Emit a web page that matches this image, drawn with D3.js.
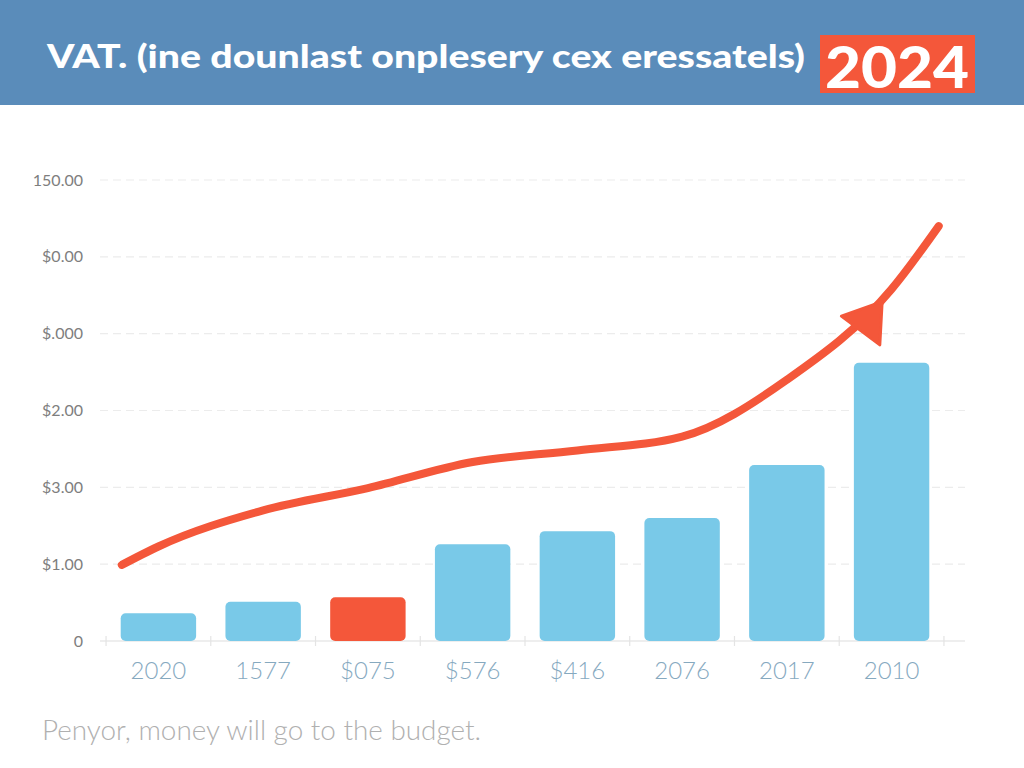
<!DOCTYPE html>
<html><head><meta charset="utf-8">
<script src="https://cdn.jsdelivr.net/npm/d3@7"></script>
<style>html,body{margin:0;padding:0;background:#fff;}svg{display:block;}</style>
</head><body>
<svg id="chart" width="1024" height="768"></svg>
<script>
const titleText = "VAT. (ine dounlast onplesery cex eressatels)";
const yearBadge = "2024";
const footerText = "Penyor, money will go to the budget.";
const categories = ["2020","1577","$075","$576","$416","2076","2017","2010"];
const barValues = [0.36, 0.51, 0.57, 1.26, 1.43, 1.6, 2.29, 3.62];
const highlightIndex = 2;
const yTickValues = [0,1,2,3,4,5,6];
const yTickLabels = ["0","$1.00","$3.00","$2.00","$.000","$0.00","150.00"];
// trend line: positions in category-index units, and values
const lineIdx = [-0.35, 0, 1, 2, 3, 4, 5, 6, 7, 7.45];
const lineVals = [0.99, 1.23, 1.70, 1.99, 2.33, 2.48, 2.66, 3.40, 4.58, 5.4];

const svg = d3.select("#chart");
const W = 1024, H = 768;
const C = {header:"#5a8cba", red:"#f4573a", bar:"#79c9e8", ytext:"#7e7e7e", xtext:"#86a9bf", grid:"#ececec", foot:"#b0b0b0"};
const FONT = "Lato, 'Open Sans', sans-serif";

// header
svg.append("rect").attr("x",0).attr("y",0).attr("width",W).attr("height",105).attr("fill",C.header);
svg.append("text").attr("x",47).attr("y",68).attr("fill","#fff")
  .attr("font-family",FONT).attr("font-weight",900).attr("font-size",33)
  .attr("textLength",758).attr("lengthAdjust","spacingAndGlyphs").text(titleText);
svg.append("rect").attr("x",820).attr("y",35).attr("width",155).attr("height",58).attr("fill",C.red);
svg.append("text").attr("x",897).attr("y",88).attr("text-anchor","middle").attr("fill","#fff")
  .attr("font-family",FONT).attr("font-weight",900).attr("font-size",58)
  .attr("textLength",144).attr("lengthAdjust","spacingAndGlyphs").text(yearBadge);

// scales
const x = d3.scaleBand().domain(categories).range([105,945]).paddingInner(0.28).paddingOuter(0.15);
const y = d3.scaleLinear().domain([0,6]).range([641,180]);
const bw = x.bandwidth();
const lx = d3.scaleLinear().domain([0,7]).range([x(categories[0])+bw/2, x(categories[7])+bw/2]);

// grid
svg.append("g").selectAll("line").data(yTickValues.slice(1)).join("line")
  .attr("x1",100).attr("x2",965).attr("y1",d=>y(d)).attr("y2",d=>y(d))
  .attr("stroke",C.grid).attr("stroke-width",1.2).attr("stroke-dasharray","8,5");

// y axis labels
const yAxis = d3.axisLeft(y).tickValues(yTickValues).tickFormat((d,i)=>yTickLabels[i]).tickSize(0).tickPadding(0);
const ya = svg.append("g").attr("transform","translate(83,0)").call(yAxis);
ya.select(".domain").remove();
ya.selectAll("text").attr("font-family",FONT).attr("font-weight",400).attr("font-size",16).attr("fill",C.ytext);

// x baseline
svg.append("line").attr("x1",100).attr("x2",965).attr("y1",641).attr("y2",641).attr("stroke","#e8e8e8").attr("stroke-width",1.5);
const half = x.step()*x.paddingInner()/2;
const bounds = categories.map(c=>x(c)-half).concat([x(categories[7])+bw+half]);
svg.append("g").selectAll("line").data(bounds).join("line").attr("x1",d=>d).attr("x2",d=>d).attr("y1",636).attr("y2",646)
  .attr("stroke","#e4e4e4").attr("stroke-width",1.2);

// bars
svg.append("g").selectAll("rect").data(barValues).join("rect")
  .attr("x",(d,i)=>x(categories[i])).attr("width",bw)
  .attr("y",d=>y(d)).attr("height",d=>y(0)-y(d)).attr("rx",5)
  .attr("fill",(d,i)=>i===highlightIndex?C.red:C.bar);

// x labels
const xAxis = d3.axisBottom(x).tickSize(0).tickPadding(0);
const xa = svg.append("g").attr("transform","translate(0,679)").call(xAxis);
xa.select(".domain").remove();
xa.selectAll("text").attr("dy",0).attr("font-family",FONT).attr("font-weight",300).attr("font-size",24).attr("fill",C.xtext);

// trend line
const pts = lineIdx.map((d,i)=>[lx(d), y(lineVals[i])]);
const line = d3.line().curve(d3.curveMonotoneX);
svg.append("path").attr("d",line(pts)).attr("fill","none").attr("stroke",C.red)
  .attr("stroke-width",8).attr("stroke-linecap","round").attr("stroke-linejoin","round");

// arrow head on the line near the end
const n = pts.length;
const p1 = pts[n-2], p2 = pts[n-1];
const ang = Math.atan2(p2[1]-p1[1], p2[0]-p1[0]);
const tip = [p1[0]+(p2[0]-p1[0])*(-0.2), p1[1]+(p2[1]-p1[1])*(-0.2)];
const L = 36, Hw = 24;
const base = [tip[0]-L*Math.cos(ang), tip[1]-L*Math.sin(ang)];
const perp = [-Math.sin(ang), Math.cos(ang)];
const tri = [tip, [base[0]+perp[0]*Hw, base[1]+perp[1]*Hw], [base[0]-perp[0]*Hw, base[1]-perp[1]*Hw]];
svg.append("path").attr("d","M"+tri.map(p=>p.join(",")).join("L")+"Z").attr("fill",C.red)
  .attr("stroke",C.red).attr("stroke-width",3).attr("stroke-linejoin","round");

// footer
svg.append("text").attr("x",42).attr("y",740).attr("fill",C.foot)
  .attr("font-family",FONT).attr("font-weight",300).attr("font-size",27)
  .attr("textLength",439).attr("lengthAdjust","spacingAndGlyphs").text(footerText);
</script>
</body></html>
